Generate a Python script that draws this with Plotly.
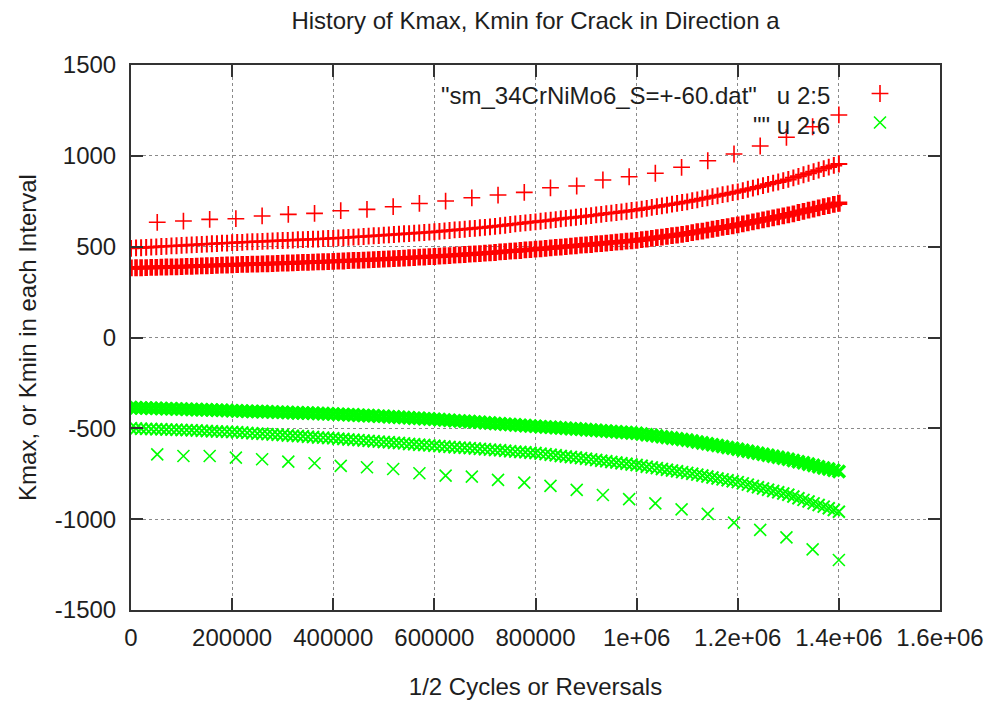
import plotly.graph_objects as go

# ---------------- data ----------------
title_text = "History of Kmax, Kmin for Crack in Direction a"
x_title = "1/2 Cycles or Reversals"
y_title = "Kmax, or Kmin in each Interval"
legend_label_1 = '"sm_34CrNiMo6_S=+-60.dat"\u00a0\u00a0 u 2:5'
legend_label_2 = '"" u 2:6'

x_tickvals = [0, 200000, 400000, 600000, 800000, 1000000, 1200000, 1400000, 1600000]
x_ticktext = ["0", "200000", "400000", "600000", "800000", "1e+06", "1.2e+06", "1.4e+06", "1.6e+06"]
y_tickvals = [-1500, -1000, -500, 0, 500, 1000, 1500]
y_ticktext = ["-1500", "-1000", "-500", "0", "500", "1000", "1500"]

# sparse block
x_sparse = [51900, 103700, 155600, 207400, 259300, 311100, 363000, 414800, 466700,
            518500, 570400, 622200, 674100, 725900, 777800, 829600, 881500, 933300,
            985200, 1037000, 1088900, 1140700, 1192600, 1244400, 1296300, 1348100, 1400000]
kmax_sparse = [634, 641, 650, 654, 669, 678, 683, 698, 705, 720, 738, 751, 769, 784,
               799, 824, 834, 867, 885, 904, 937, 973, 1010, 1054, 1102, 1160, 1225]
kmin_sparse = [-643, -652, -652, -661, -670, -683, -692, -707, -714, -724, -747, -760, -766, -784,
               -799, -817, -839, -867, -890, -913, -946, -971, -1019, -1059, -1100, -1166, -1225]

# dense blocks (sample positions, every 10000 half cycles)
x_dense = list(range(0, 1400001, 10000))   # 141 samples

kmax_inner = [383, 384, 384, 385, 386, 386, 387, 388, 389, 389,
              390, 391, 392, 393, 394, 395, 396, 397, 398, 399,
              400, 401, 402, 403, 404, 404, 405, 406, 407, 408,
              409, 410, 411, 412, 413, 414, 415, 416, 417, 418,
              419, 420, 421, 423, 424, 425, 426, 427, 429, 430,
              431, 433, 434, 436, 437, 439, 440, 442, 443, 445,
              446, 448, 450, 451, 453, 455, 457, 459, 460, 462,
              464, 466, 468, 471, 473, 475, 477, 479, 482, 484,
              486, 488, 491, 493, 496, 498, 500, 503, 505, 508,
              510, 512, 515, 517, 520, 522, 525, 527, 530, 532,
              535, 539, 542, 546, 550, 553, 557, 561, 564, 568,
              572, 577, 582, 586, 591, 596, 601, 606, 610, 615,
              620, 625, 631, 636, 642, 647, 653, 658, 664, 669,
              675, 681, 688, 694, 701, 707, 713, 720, 726, 733,
              739]

kmax_outer = [491, 493, 494, 496, 497, 499, 501, 502, 504, 505,
              507, 508, 510, 511, 513, 514, 516, 517, 519, 520,
              522, 523, 524, 526, 527, 528, 529, 530, 532, 533,
              534, 535, 536, 538, 539, 540, 541, 542, 544, 545,
              546, 548, 549, 551, 553, 554, 556, 558, 560, 561,
              563, 565, 567, 569, 571, 572, 574, 576, 578, 580,
              582, 584, 587, 589, 592, 594, 596, 599, 601, 604,
              606, 609, 612, 615, 618, 622, 625, 628, 631, 634,
              637, 640, 643, 646, 649, 653, 656, 659, 662, 665,
              668, 671, 675, 678, 682, 685, 688, 692, 695, 699,
              702, 707, 711, 716, 720, 725, 729, 734, 738, 743,
              747, 753, 758, 764, 769, 775, 780, 786, 791, 797,
              802, 809, 816, 822, 829, 836, 843, 850, 856, 863,
              870, 879, 887, 896, 904, 913, 921, 930, 938, 947,
              955]

kmin_inner = [-386, -387, -388, -388, -389, -390, -391, -392, -392, -393,
              -394, -395, -396, -397, -398, -398, -399, -400, -401, -402,
              -403, -404, -405, -406, -407, -407, -408, -409, -410, -411,
              -412, -413, -414, -415, -416, -416, -417, -418, -419, -420,
              -421, -422, -424, -425, -426, -428, -429, -430, -431, -433,
              -434, -436, -437, -439, -440, -442, -444, -445, -447, -448,
              -450, -452, -454, -456, -458, -460, -461, -463, -465, -467,
              -469, -471, -473, -475, -477, -479, -481, -483, -485, -487,
              -489, -491, -493, -494, -496, -498, -500, -502, -503, -505,
              -507, -509, -511, -513, -515, -517, -519, -521, -523, -525,
              -527, -531, -535, -538, -542, -546, -550, -554, -557, -561,
              -565, -570, -575, -580, -585, -590, -595, -600, -605, -610,
              -615, -621, -626, -632, -637, -643, -648, -654, -659, -665,
              -670, -677, -684, -690, -697, -704, -711, -718, -724, -731,
              -738]

kmin_outer = [-500, -501, -502, -503, -504, -505, -505, -506, -507, -508,
              -509, -510, -511, -512, -513, -515, -516, -517, -518, -519,
              -520, -522, -523, -525, -527, -529, -530, -532, -534, -535,
              -537, -539, -541, -542, -544, -546, -548, -550, -551, -553,
              -555, -557, -559, -561, -563, -565, -567, -569, -571, -573,
              -575, -577, -579, -581, -583, -586, -588, -590, -592, -594,
              -596, -598, -600, -602, -604, -606, -607, -609, -611, -613,
              -615, -617, -619, -621, -623, -626, -628, -630, -632, -634,
              -636, -639, -642, -645, -648, -652, -655, -658, -661, -664,
              -667, -671, -674, -678, -681, -685, -688, -692, -695, -699,
              -702, -706, -711, -715, -719, -724, -728, -732, -736, -741,
              -745, -750, -755, -760, -765, -771, -776, -781, -786, -791,
              -796, -803, -810, -817, -824, -831, -838, -845, -852, -859,
              -866, -875, -885, -894, -903, -913, -922, -931, -940, -950,
              -959]

# ---------------- figure ----------------
FONT = "Liberation Sans, Arial, Helvetica, sans-serif"
TXT = "#1e1e1e"
RED = "#ff0000"
GREEN = "#00ff00"

fig = go.Figure()


def add_block(x, y, symbol, color, lw, group, show):
    fig.add_trace(go.Scatter(
        x=x, y=y, mode="markers", name="", legendgroup=group, showlegend=show,
        marker=dict(symbol=symbol, size=12, color=color, line=dict(color=color, width=lw)),
    ))


# Kmax (column 5) - red plus
add_block(x_sparse, kmax_sparse, "cross-thin", RED, 1.6, "a", True)
add_block(x_dense, kmax_outer, "cross-thin", RED, 2.0, "a", False)
add_block(x_dense, kmax_inner, "cross-thin", RED, 3.6, "a", False)
# Kmin (column 6) - green cross
add_block(x_sparse, kmin_sparse, "x-thin", GREEN, 1.6, "b", True)
add_block(x_dense, kmin_inner, "x-thin", GREEN, 3.6, "b", False)
add_block(x_dense, kmin_outer, "x-thin", GREEN, 2.0, "b", False)

axis_common = dict(
    showline=True, linecolor="#333333", linewidth=2, mirror="ticks",
    ticks="inside", ticklen=12, tickwidth=1.5, tickcolor="#333333",
    showgrid=True, gridcolor="#8a8a8a", gridwidth=1, griddash="dot",
    zeroline=False, automargin=False,
    tickfont=dict(family=FONT, size=24, color=TXT),
)

fig.update_layout(
    width=986, height=709,
    margin=dict(l=131, r=46, t=65, b=99, pad=0, autoexpand=False),
    paper_bgcolor="white", plot_bgcolor="white",
    font=dict(family=FONT, size=24, color=TXT),
    title=dict(text=title_text, x=0.5, xref="paper", xanchor="center",
               y=1 - 21 / 709, yref="container", yanchor="middle",
               font=dict(family=FONT, size=24, color=TXT)),
    xaxis=dict(range=[0, 1600000], tickvals=x_tickvals, ticktext=x_ticktext,
               ticklabelstandoff=5,
               title=dict(text=x_title, standoff=28, font=dict(family=FONT, size=24, color=TXT)),
               **axis_common),
    yaxis=dict(range=[-1500, 1500], tickvals=y_tickvals, ticktext=y_ticktext,
               ticklabelstandoff=8,
               title=dict(text=y_title, standoff=11, font=dict(family=FONT, size=24, color=TXT)),
               **axis_common),
    showlegend=True,
    legend=dict(x=(860 - 131) / 809, xanchor="left", y=(610 - 74) / 545, yanchor="top",
                bgcolor="rgba(0,0,0,0)", borderwidth=0, tracegroupgap=0,
                font=dict(family=FONT, size=20, color=TXT), itemwidth=30),
    shapes=[dict(type="rect", xref="paper", yref="paper",
                 x0=(425 - 131) / 809, x1=(905 - 131) / 809,
                 y0=(610 - 137) / 545, y1=1,
                 fillcolor="white", line=dict(width=0), layer="between")],
    annotations=[
        dict(text=legend_label_1, xref="paper", yref="paper",
             x=(832 - 131) / 809, y=(610 - 95) / 545, xanchor="right", yanchor="middle",
             showarrow=False, font=dict(family=FONT, size=24, color=TXT)),
        dict(text=legend_label_2, xref="paper", yref="paper",
             x=(832 - 131) / 809, y=(610 - 125) / 545, xanchor="right", yanchor="middle",
             showarrow=False, font=dict(family=FONT, size=24, color=TXT)),
    ],
)

fig.write_html("out.html", config={"displayModeBar": False},
               post_script="document.body.style.margin='0px';")
